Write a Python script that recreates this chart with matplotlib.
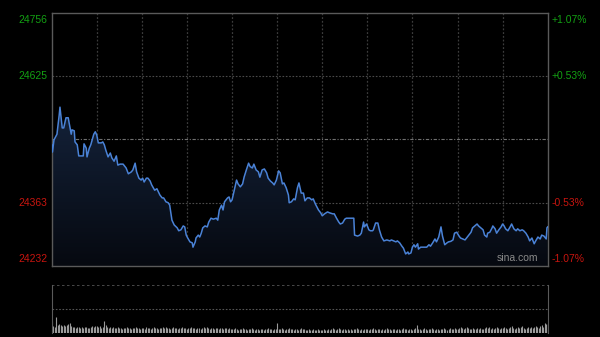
import matplotlib
matplotlib.use("Agg")
import matplotlib.pyplot as plt
import numpy as np

# ---------------- data ----------------
prev_close = 24494
y_ticks_left = [24756, 24625, 24363, 24232]
y_ticks_right = ["+1.07%", "+0.53%", "-0.53%", "-1.07%"]

minutes = [0, 0.5, 1.5, 3.5, 5, 5.5, 7, 8, 9.5, 11, 11.5, 13, 13.5, 15, 15.5, 17, 18, 19.5, 21, 21.5,
           23, 23.5, 25, 26, 28, 29, 30, 31, 33, 34, 35, 36, 37.5, 39, 40, 41.5, 43, 44, 45.5, 47.5,
           49.5, 51, 53, 54, 55.5, 56.5, 58, 59.5, 60.5, 61.5, 63, 64, 65.5, 66.5, 68.5, 70, 72, 73.5, 74.5, 76,
           77.5, 78.5, 80, 81.5, 83.5, 84.5, 86, 87.5, 88.5, 89.5, 90.5, 92, 93.5, 94, 95.5, 96, 97.5, 98.5, 99.5, 100.5,
           102, 103.5, 104.5, 106, 107.5, 109.5, 110.5, 111.5, 113, 114, 115, 117, 118, 119, 120, 121.5, 123, 124, 125.5, 127,
           128, 129.5, 131, 132, 133.5, 134.5, 136, 137.5, 138.5, 140, 141.5, 143, 144, 145.5, 147, 148, 149.5, 151, 152, 153.5,
           154.5, 156, 157.5, 158, 159.5, 161, 162, 163.5, 164.5, 166, 167.5, 168.5, 170, 171.5, 173, 174, 175.5, 177.5, 179, 180,
           181.5, 183.5, 185, 187, 188, 189.5, 191, 192, 193.5, 195, 196, 197.5, 199, 201, 201.5, 203.5, 205, 206, 207.5, 208,
           209.5, 211, 212, 213.5, 214, 215.5, 217, 218, 219.5, 221, 223, 225, 226, 227.5, 229, 230, 231.5, 233, 234, 235.5,
           237, 237.5, 239, 240, 241, 242, 243.5, 244, 245.5, 247, 248, 249.5, 251, 252, 253.5, 255, 256, 257.5, 259, 260,
           261.5, 263, 264, 265.5, 267, 268, 269.5, 271, 272, 273.5, 275, 276, 277.5, 279, 280, 281.5, 283, 284, 285.5, 287,
           288, 289.5, 290, 291.5, 293, 293.5, 295, 296, 297.5, 299, 300, 301, 302, 303.5, 305, 306, 307.5, 309, 310, 311.5,
           313, 314, 315.5, 317, 318, 319.5, 321, 322, 323.5, 325, 326, 327.5, 329, 329.5, 330]

prices = [24483, 24468, 24493, 24505, 24545, 24561, 24518, 24518, 24539, 24539, 24530, 24505, 24514, 24512, 24489, 24483, 24460, 24460, 24460, 24485,
          24476, 24458, 24476, 24483, 24505, 24510, 24503, 24487, 24487, 24489, 24483, 24472, 24458, 24466, 24456, 24449, 24460, 24441, 24443, 24443,
          24435, 24423, 24427, 24431, 24445, 24427, 24414, 24410, 24414, 24406, 24414, 24414, 24408, 24400, 24389, 24392, 24379, 24373, 24373, 24365,
          24363, 24358, 24327, 24317, 24311, 24305, 24307, 24315, 24313, 24296, 24290, 24282, 24280, 24271, 24282, 24290, 24296, 24292, 24300, 24311,
          24315, 24313, 24323, 24331, 24329, 24331, 24327, 24348, 24358, 24348, 24365, 24373, 24375, 24365, 24369, 24389, 24410, 24402, 24396, 24402,
          24416, 24431, 24445, 24438, 24435, 24443, 24431, 24427, 24416, 24431, 24433, 24425, 24414, 24408, 24404, 24400, 24410, 24429, 24425, 24402,
          24404, 24394, 24379, 24363, 24365, 24371, 24369, 24394, 24404, 24383, 24383, 24367, 24373, 24373, 24369, 24371, 24360, 24348, 24342, 24336,
          24340, 24344, 24342, 24340, 24340, 24331, 24323, 24319, 24321, 24329, 24331, 24331, 24331, 24331, 24296, 24294, 24296, 24300, 24323, 24313,
          24319, 24307, 24305, 24305, 24307, 24321, 24321, 24307, 24292, 24284, 24286, 24284, 24286, 24284, 24282, 24284, 24280, 24273, 24269, 24257,
          24261, 24257, 24259, 24271, 24276, 24271, 24278, 24267, 24271, 24271, 24271, 24271, 24276, 24273, 24280, 24288, 24282, 24292, 24313, 24294,
          24276, 24280, 24282, 24283, 24286, 24300, 24302, 24294, 24290, 24288, 24286, 24290, 24296, 24302, 24311, 24315, 24319, 24315, 24311, 24307,
          24296, 24292, 24300, 24302, 24311, 24315, 24309, 24300, 24307, 24313, 24319, 24315, 24309, 24305, 24313, 24319, 24309, 24305, 24309, 24305,
          24307, 24305, 24300, 24292, 24284, 24290, 24278, 24284, 24292, 24288, 24296, 24294, 24288, 24311, 24313]

volume = [12, 7, 6, 16, 8, 9, 8, 7, 8, 7, 8, 9, 10, 7, 6, 6, 5, 6, 6, 5, 6, 5, 6, 6, 5, 5, 6, 7, 6, 7,
          7, 6, 7, 5, 6, 12, 8, 6, 5, 6, 5, 6, 5, 5, 6, 5, 5, 4, 5, 5, 6, 5, 5, 4, 5, 5, 6, 5, 5, 4,
          5, 5, 4, 6, 5, 5, 4, 5, 6, 5, 5, 4, 5, 5, 6, 5, 6, 5, 5, 4, 5, 6, 5, 5, 4, 5, 5, 6, 5, 5,
          4, 5, 5, 6, 5, 5, 4, 5, 5, 4, 5, 6, 5, 6, 5, 4, 5, 5, 4, 5, 5, 4, 5, 5, 4, 5, 5, 4, 5, 4,
          4, 4, 5, 4, 3, 4, 4, 5, 4, 4, 3, 4, 4, 5, 4, 3, 4, 4, 3, 4, 4, 3, 4, 4, 5, 4, 4, 3, 4, 4,
          10, 4, 4, 5, 4, 3, 4, 4, 5, 4, 4, 3, 4, 4, 3, 4, 5, 4, 4, 3, 3, 4, 3, 3, 4, 3, 3, 4, 3, 3,
          3, 4, 3, 3, 4, 3, 4, 5, 4, 3, 4, 5, 4, 3, 4, 4, 3, 4, 3, 4, 3, 4, 4, 5, 4, 3, 4, 3, 4, 4,
          4, 3, 4, 4, 5, 4, 3, 4, 4, 3, 4, 3, 4, 5, 4, 4, 3, 4, 4, 3, 4, 4, 3, 4, 5, 4, 4, 3, 4, 4,
          3, 4, 5, 8, 4, 4, 3, 4, 5, 4, 3, 4, 4, 5, 4, 3, 4, 4, 3, 4, 4, 5, 4, 3, 4, 5, 4, 4, 5, 4,
          4, 5, 6, 5, 4, 5, 6, 5, 4, 4, 5, 4, 4, 5, 4, 5, 4, 4, 5, 6, 5, 6, 4, 5, 4, 5, 6, 5, 4, 5,
          5, 6, 5, 4, 5, 6, 7, 5, 4, 5, 6, 5, 6, 7, 5, 4, 5, 6, 5, 6, 5, 6, 7, 6, 5, 7, 8, 6, 10, 9, 9]

grid_minutes = [30, 60, 90, 120, 150, 180, 210, 240, 270, 300]

# ---------------- style ----------------
W, H = 600, 337
fig = plt.figure(figsize=(W / 100, H / 100), dpi=100, facecolor="#000000")
plt.rcParams["font.family"] = ["Liberation Sans", "DejaVu Sans"]

def fr(x0, y0, x1, y1):
    return [x0 / W, 1 - y1 / H, (x1 - x0) / W, (y1 - y0) / H]

ax = fig.add_axes(fr(51.7, 13, 547.7, 266))
axv = fig.add_axes(fr(51.7, 285, 547.7, 332.5))

green = "#13a013"
red = "#c8150f"
border = "#5a5a5a"
gridc = "#3c3c3c"

for a in (ax, axv):
    a.set_facecolor("#000000")
    a.set_xlim(0, 330)
    a.set_xticks([])
    a.set_yticks([])

ymin, ymax = y_ticks_left[-1], y_ticks_left[0]
ax.set_ylim(ymin, ymax)
for s in ax.spines.values():
    s.set_color(border)
    s.set_linewidth(1.0)

# grid
for m in grid_minutes:
    ax.axvline(m, color=gridc, lw=0.9, ls=(0, (1.5, 1.5)), zorder=1)
for v in (y_ticks_left[1], y_ticks_left[2]):
    ax.axhline(v, color="#4a4a4a", lw=0.8, ls=(0, (1.5, 1.5)), zorder=1)
ax.axhline(prev_close, color="#707070", lw=0.8, ls=(0, (3, 1.5, 1, 1.5)), zorder=1)

# gradient fill under line
xs = np.array(minutes, dtype=float)
ps = np.array(prices, dtype=float)
poly = ax.fill_between(xs, ps, ymin, color="none", lw=0)
grad = np.linspace(0, 1, 256).reshape(-1, 1)
top_c = np.array([20, 34, 58]) / 255.0
bot_c = np.array([6, 9, 16]) / 255.0
img = top_c[None, None, :] * (1 - grad[:, :, None]) + bot_c[None, None, :] * grad[:, :, None]
im = ax.imshow(img, extent=[0, 330, ymin, ps.max()], aspect="auto", origin="upper", zorder=2)
im.set_clip_path(poly.get_paths()[0], transform=ax.transData)
ax.set_xlim(0, 330)
ax.set_ylim(ymin, ymax)

ax.plot(xs, ps, color="#4a82d6", lw=1.1, zorder=3, solid_joinstyle="round")

# axis labels
for i, (v, r) in enumerate(zip(y_ticks_left, y_ticks_right)):
    c = green if v > prev_close else red
    va = "top" if i == 0 else ("bottom" if i == len(y_ticks_left) - 1 else "center")
    off = -2 if i == 0 else (2 if i == len(y_ticks_left) - 1 else 0)
    ax.annotate(str(v), xy=(0, v), xycoords=("axes fraction", "data"),
                xytext=(-4, off), textcoords="offset pixels", ha="right", va=va,
                color=c, fontsize=7.5)
    ax.annotate(r, xy=(1, v), xycoords=("axes fraction", "data"),
                xytext=(4, off), textcoords="offset pixels", ha="left", va=va,
                color=c, fontsize=7.5)

ax.text(0.98, 0.012, "sina.com", transform=ax.transAxes, ha="right", va="bottom",
        color="#8a8a8a", fontsize=7.5, zorder=4)

# volume panel
vm = np.arange(len(volume))
axv.set_ylim(0, 47.5)
axv.vlines(vm, 0, volume, color="#9a9a9a", lw=0.8)
axv.axhline(23.5, color="#555555", lw=0.8, ls=(0, (1.5, 1.5)))
axv.axhline(47.5, color="#555555", lw=1.2, ls=(0, (1.5, 1.5)))
axv.spines["top"].set_visible(False)
axv.spines["bottom"].set_visible(False)
axv.spines["left"].set_color(border)
axv.spines["right"].set_color(border)

fig.savefig("out.png", dpi=100, facecolor=fig.get_facecolor())
